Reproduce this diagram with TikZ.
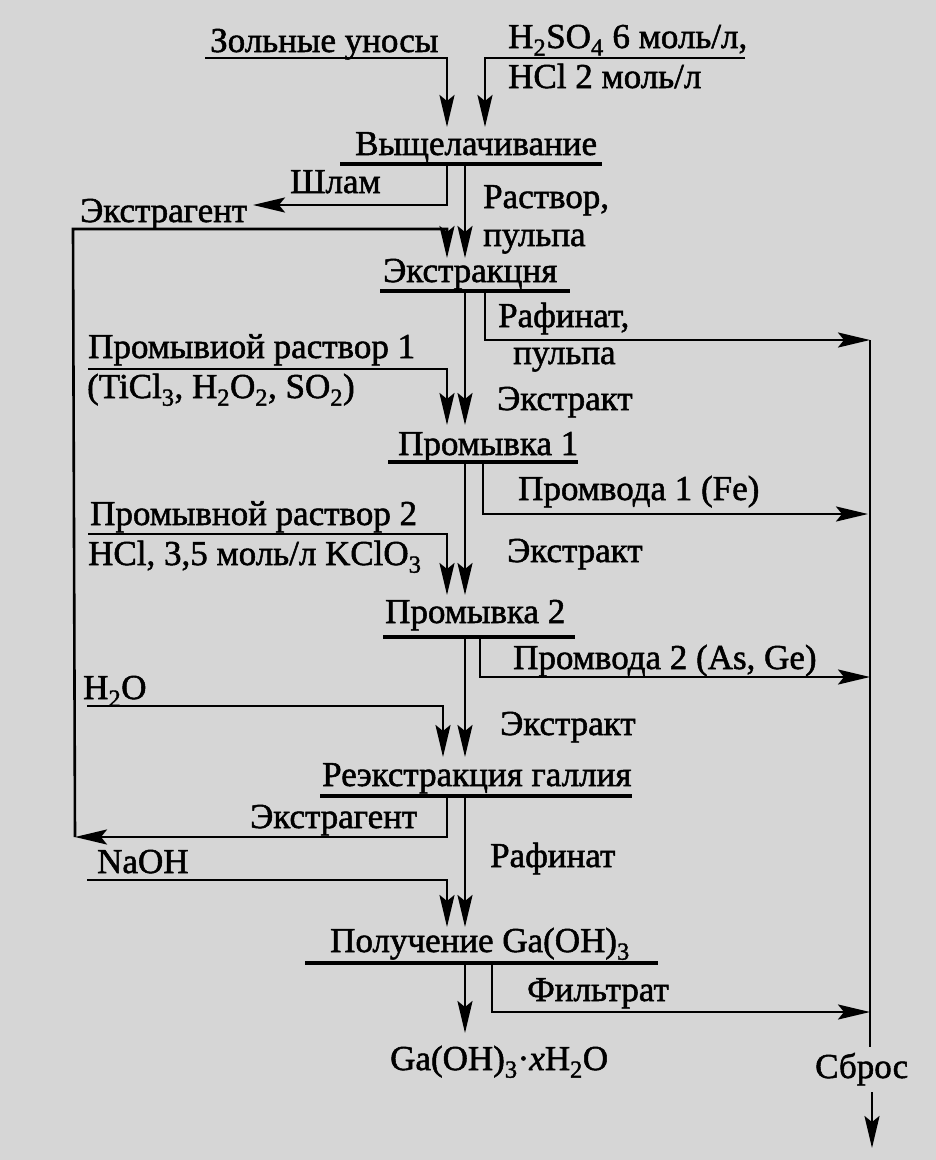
\documentclass[tikz,border=0pt]{standalone}
\usepackage{fontspec}
\setmainfont{Liberation Serif}[FakeBold=1.5]
\usetikzlibrary{arrows.meta}
\definecolor{ScanGray}{RGB}{214,214,214}
\newcommand\chemsub[1]{\textsubscript{#1}}
\tikzset{%
	txt/.style={anchor=base west, inner sep=0pt,
		font=\fontsize{35}{40}\selectfont},
	bar/.style={line width=4pt},
	feed/.style={line width=2.6pt},
	flow/.style={line width=2.6pt,
		-{Stealth[length=32pt,width=15pt,inset=6pt]}},
}

\begin{document}
\begin{tikzpicture}[x=1pt,y=-1pt]

    \useasboundingbox[fill=ScanGray] (0,0) rectangle (936,1160);

    % texts
    \node[txt] (Ash)      at (210,52)  {Зольные уносы};
    \node[txt] (AcidA)    at (508,48)  {H\chemsub{2}SO\chemsub{4} 6 моль/л,};
    \node[txt] (AcidB)    at (508,88)  {HCl 2 моль/л};
    \node[txt] (Leach)    at (355,155) {Выщелачивание};
    \node[txt] (Slime)    at (290,193) {Шлам};
    \node[txt] (PulpA)    at (483,208) {Раствор,};
    \node[txt] (PulpB)    at (483,246) {пульпа};
    \node[txt] (SolvTop)  at (80,222)  {Экстрагент};
    \node[txt] (Extr)     at (383,282) {Экстракцня};
    \node[txt] (RaffA)    at (498,327) {Рафинат,};
    \node[txt] (RaffB)    at (513,364) {пульпа};
    \node[txt] (WashInA)  at (88,358)  {Промывиой раствор 1};
    \node[txt] (WashInB)  at (87,398)  {(TiCl\chemsub{3}, H\chemsub{2}O\chemsub{2}, SO\chemsub{2})};
    \node[txt] (ExtrOutA) at (497,410) {Экстракт};
    \node[txt] (WashA)    at (398,455) {Промывка 1};
    \node[txt] (WaterA)   at (518,500) {Промвода 1 (Fe)};
    \node[txt] (WashInC)  at (90,525)  {Промывной раствор 2};
    \node[txt] (WashInD)  at (88,565)  {HCl, 3,5 моль/л KClO\chemsub{3}};
    \node[txt] (ExtrOutB) at (507,562) {Экстракт};
    \node[txt] (WashB)    at (385,623) {Промывка 2};
    \node[txt] (WaterB)   at (513,669) {Промвода 2 (As, Ge)};
    \node[txt] (Water)    at (83,699)  {H\chemsub{2}O};
    \node[txt] (ExtrOutC) at (500,735) {Экстракт};
    \node[txt] (Strip)    at (322,786) {Реэкстракция галлия};
    \node[txt] (SolvBot)  at (250,828) {Экстрагент};
    \node[txt] (RaffC)    at (490,867) {Рафинат};
    \node[txt] (Alkali)   at (97,873)  {NaOH};
    \node[txt] (Precip)   at (330,952) {Получение Ga(OH)\chemsub{3}};
    \node[txt] (Filtrate) at (527,1001) {Фильтрат};
    \node[txt] (Product)  at (390,1070) {Ga(OH)\chemsub{3}·\textit{x}H\chemsub{2}O};
    \node[txt] (Waste)    at (815,1078) {Сброс};

    % junctions
    \coordinate (AshL)      at (205,58);
    \coordinate (AcidR)     at (745,58);
    \coordinate (LeachInA)  at (447,127);
    \coordinate (LeachInB)  at (485,127);
    \coordinate (LeachL)    at (340,164);
    \coordinate (LeachR)    at (602,164);
    \coordinate (SlimeEnd)  at (253,205);
    \coordinate (LoopTL)    at (73,229);
    \coordinate (LoopBL)    at (75,837);
    \coordinate (ExtrInA)   at (447,258);
    \coordinate (ExtrInB)   at (465,258);
    \coordinate (ExtrL)     at (380,291);
    \coordinate (ExtrR)     at (570,291);
    \coordinate (DrainTop)  at (870,340);
    \coordinate (DrainBot)  at (870,1047);
    \coordinate (WashInAL)  at (88,369);
    \coordinate (WashAInA)  at (447,425);
    \coordinate (WashAInB)  at (465,425);
    \coordinate (WashAL)    at (388,462);
    \coordinate (WashAR)    at (578,462);
    \coordinate (WaterAEnd) at (868,514);
    \coordinate (WashInCL)  at (88,534);
    \coordinate (WashBInA)  at (447,595);
    \coordinate (WashBInB)  at (465,595);
    \coordinate (WashBL)    at (383,637);
    \coordinate (WashBR)    at (575,637);
    \coordinate (WaterBEnd) at (870,677);
    \coordinate (WaterL)    at (87,706);
    \coordinate (StripInA)  at (443,757);
    \coordinate (StripInB)  at (465,757);
    \coordinate (StripL)    at (320,796);
    \coordinate (StripR)    at (632,796);
    \coordinate (AlkaliL)   at (87,880);
    \coordinate (PrecInA)   at (447,927);
    \coordinate (PrecInB)   at (465,927);
    \coordinate (PrecL)     at (305,963);
    \coordinate (PrecR)     at (658,963);
    \coordinate (FiltEnd)   at (870,1012);
    \coordinate (ProdIn)    at (465,1033);
    \coordinate (WasteTop)  at (872,1092);
    \coordinate (WasteBot)  at (872,1148);

    % process bars
    \draw[bar] (LeachL) -- (LeachR);
    \draw[bar] (ExtrL) -- (ExtrR);
    \draw[bar] (WashAL) -- (WashAR);
    \draw[bar] (WashBL) -- (WashBR);
    \draw[bar] (StripL) -- (StripR);
    \draw[bar] (PrecL) -- (PrecR);

    % feeds
    \draw[flow] (AshL) -| (LeachInA);
    \draw[flow] (AcidR) -| (LeachInB);
    \draw[flow] (LeachL -| LeachInA) |- (SlimeEnd);
    \draw[flow] (LeachL -| ExtrInB) -- (ExtrInB);
    \draw[flow] (LoopBL) -- (LoopTL) -| (ExtrInA);
    \draw[flow] (ExtrL -| LeachInB) |- (DrainTop);
    \draw[feed] (DrainTop) -- (DrainBot);
    \draw[flow] (WasteTop) -- (WasteBot);

    \draw[flow] (ExtrL -| WashAInB) -- (WashAInB);
    \draw[flow] (WashInAL) -| (WashAInA);
    \draw[flow] (WashAL -| 483,0) |- (WaterAEnd);

    \draw[flow] (WashAL -| WashBInB) -- (WashBInB);
    \draw[flow] (WashInCL) -| (WashBInA);
    \draw[flow] (WashBL -| 480,0) |- (WaterBEnd);

    \draw[flow] (WashBL -| StripInB) -- (StripInB);
    \draw[flow] (WaterL) -| (StripInA);
    \draw[flow] (StripL -| PrecInA) |- (LoopBL);

    \draw[flow] (StripL -| PrecInB) -- (PrecInB);
    \draw[flow] (AlkaliL) -| (PrecInA);
    \draw[flow] (PrecL -| 492,0) |- (FiltEnd);
    \draw[flow] (PrecL -| ProdIn) -- (ProdIn);

\end{tikzpicture}
\end{document}
